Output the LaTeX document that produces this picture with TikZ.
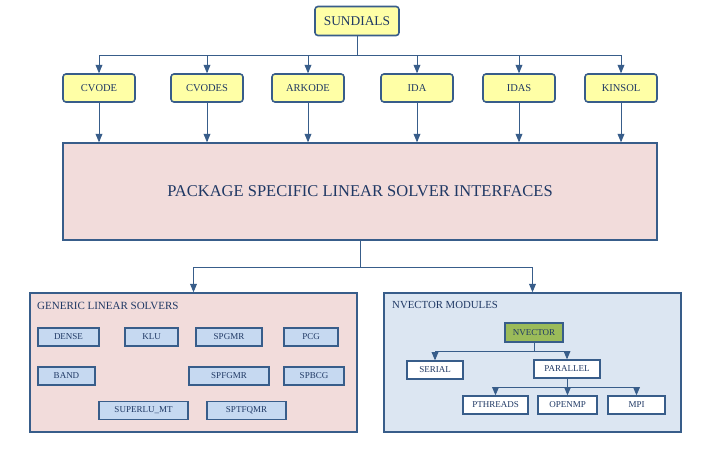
\documentclass[tikz,border=0pt]{standalone}
\usepackage{fontspec}
\setmainfont{Liberation Serif}
\usetikzlibrary{arrows}

\definecolor{navy}{HTML}{385D8A}
\definecolor{ink}{HTML}{1F3864}
\definecolor{pkgyellow}{HTML}{FFFFA6}
\definecolor{ifacepink}{HTML}{F2DCDB}
\definecolor{vecblue}{HTML}{DCE6F2}
\definecolor{solverblue}{HTML}{C6D9F1}
\definecolor{nvgreen}{HTML}{9BBB59}

\begin{document}
\begin{tikzpicture}[x=1pt, y=-1pt, >=triangle 45,
  every node/.style={text=ink},
  pkg/.style={draw=navy, line width=1.6pt, fill=pkgyellow, rounded corners=3pt,
    minimum width=72pt, minimum height=28pt, font=\fontsize{10.5}{12}\selectfont},
  group/.style={draw=navy, line width=1.6pt, minimum height=139pt},
  solver/.style={draw=navy, line width=1.2pt, fill=solverblue, minimum height=18pt,
    inner sep=1pt, font=\fontsize{9}{10}\selectfont},
  vec/.style={draw=navy, line width=1.4pt, fill=white, minimum height=18pt,
    inner sep=1pt, font=\fontsize{9}{10}\selectfont},
  link/.style={draw=navy, line width=0.9pt}]
  \useasboundingbox (0,0) rectangle (717,459);

  % top level
  \node[pkg, minimum width=84pt, minimum height=29pt, font=\fontsize{13.4}{15}\selectfont] (sundials) at (357,21) {SUNDIALS};
  \coordinate (hub) at (357,55);

  % packages
  \node[pkg] (cvode) at (99,88) {CVODE};
  \node[pkg] (cvodes) at (207,88) {CVODES};
  \node[pkg] (arkode) at (308,88) {ARKODE};
  \node[pkg] (ida) at (417,88) {IDA};
  \node[pkg] (idas) at (519,88) {IDAS};
  \node[pkg] (kinsol) at (621,88) {KINSOL};

  \node[draw=navy, line width=1.6pt, fill=ifacepink, minimum width=594pt, minimum height=97pt,
    font=\fontsize{16.5}{19}\selectfont] (iface) at (360,191.5) {PACKAGE SPECIFIC LINEAR SOLVER INTERFACES};

  % lower groups
  \node[group, fill=ifacepink, minimum width=327pt] (generic) at (193.5,362.5) {};
  \node[group, fill=vecblue, minimum width=297pt] (nvecmods) at (532.5,362.5) {};
  \node[anchor=west, inner sep=0pt, font=\fontsize{11}{13}\selectfont] (generictitle) at (37,306) {GENERIC LINEAR SOLVERS};
  \node[anchor=west, inner sep=0pt, font=\fontsize{10.8}{13}\selectfont] (nvectitle) at (392,305) {NVECTOR MODULES};

  % generic linear solvers
  \node[solver, minimum width=61pt] (dense) at (68.5,337) {DENSE};
  \node[solver, minimum width=53pt] (klu) at (151.5,337) {KLU};
  \node[solver, minimum width=66pt] (spgmr) at (229,337) {SPGMR};
  \node[solver, minimum width=54pt] (pcg) at (311,337) {PCG};
  \node[solver, minimum width=57pt] (band) at (66.5,376) {BAND};
  \node[solver, minimum width=80pt] (spfgmr) at (229,376) {SPFGMR};
  \node[solver, minimum width=60pt] (spbcg) at (314,376) {SPBCG};
  \node[solver, minimum width=89pt] (superlu) at (143.5,410.5) {SUPERLU\_MT};
  \node[solver, minimum width=79pt] (sptfqmr) at (246.5,410.5) {SPTFQMR};

  % nvector modules
  \node[vec, fill=nvgreen, minimum width=58pt, minimum height=19pt] (nvector) at (534,332.5) {NVECTOR};
  \node[vec, minimum width=56pt] (serial) at (435,370) {SERIAL};
  \node[vec, minimum width=66pt] (parallel) at (567,369) {PARALLEL};
  \node[vec, minimum width=65pt] (pthreads) at (495.5,405) {PTHREADS};
  \node[vec, minimum width=59pt] (openmp) at (567.5,405) {OPENMP};
  \node[vec, minimum width=57pt] (mpi) at (636.5,405) {MPI};

  % connectors
  \draw[link] (sundials) -- (hub);
  \foreach \p in {cvode, cvodes, arkode, ida, idas, kinsol} {
    \draw[link, ->] (hub) -| (\p.north);
    \draw[link, ->] (\p.south) -- (\p.south |- iface.north);
  }
  \draw[link] (iface.south) -- ++(0,27) coordinate (split);
  \draw[link, ->] (split) -| (generic.north);
  \draw[link, ->] (split) -| (nvecmods.north);

  \draw[link] (nvector.south) -- ++(0,9) coordinate (nvsplit);
  \draw[link, ->] (nvsplit) -| (serial.north);
  \draw[link, ->] (nvsplit) -| (parallel.north);
  \draw[link] (parallel.south) -- ++(0,9) coordinate (parsplit);
  \draw[link, ->] (parsplit) -| (pthreads.north);
  \draw[link, ->] (parsplit) -| (openmp.north);
  \draw[link, ->] (parsplit) -| (mpi.north);
\end{tikzpicture}
\end{document}
